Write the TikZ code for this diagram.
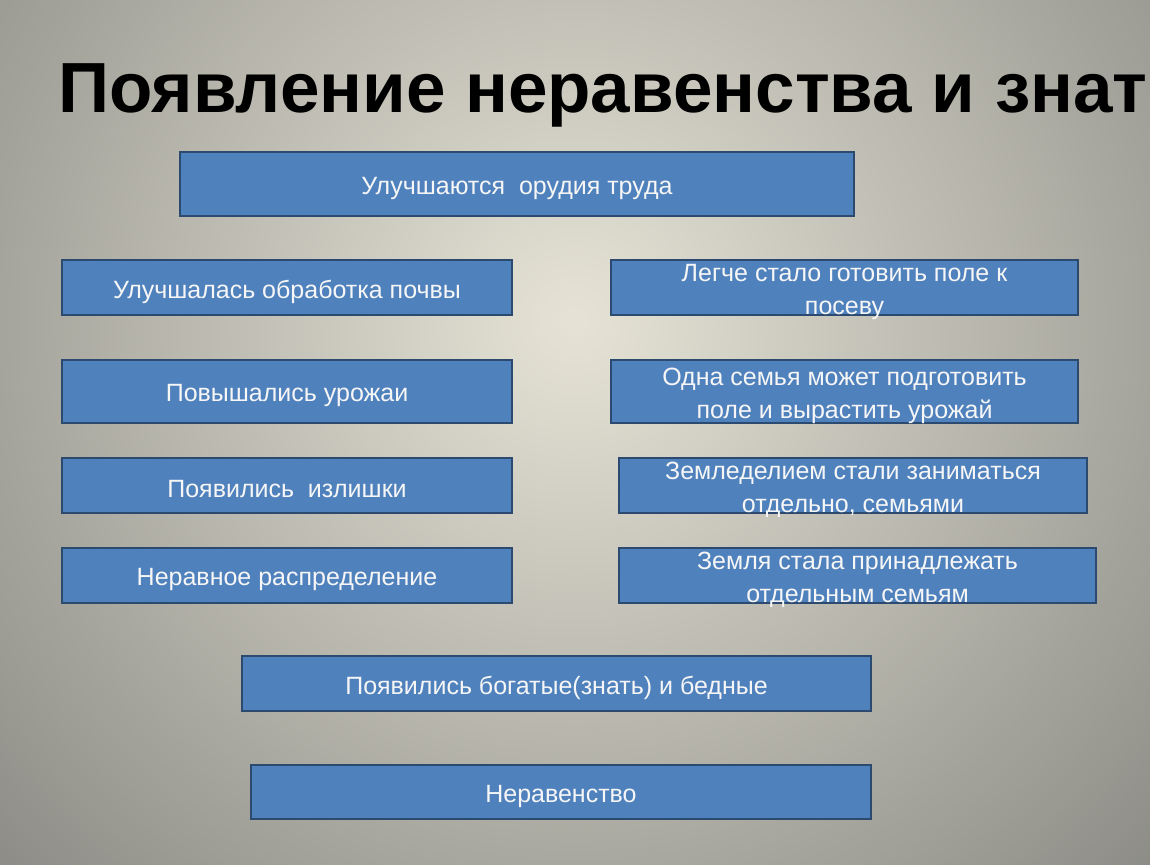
\documentclass[tikz,border=0pt]{standalone}
\usepackage{fontspec}
\setmainfont{Liberation Sans}
\definecolor{boxfill}{HTML}{4F81BD}
\definecolor{boxline}{HTML}{2C4A70}
\definecolor{bgin}{HTML}{E6E3D6}
\definecolor{bgout}{HTML}{8A8A84}
\begin{document}
\begin{tikzpicture}[x=1pt,y=-1pt,
  bx/.style={draw=boxline,line width=2pt,fill=boxfill,text=white!93!gray,
    font=\fontsize{25}{33}\selectfont,align=center,inner sep=0pt}]
\useasboundingbox (0,0) rectangle (1150,864);
\begin{scope}
\clip (0,0) rectangle (1150,864);
\shade[inner color=bgin, outer color=bgout] (575,320) circle (820);
\node[anchor=base west,font=\bfseries\fontsize{71}{75}\selectfont,inner sep=0pt] (title) at (58,113) {Появление неравенства и знать};
\end{scope}
\newcommand\bxnode[6]{\node[bx,minimum width=#4-#2,minimum height=#5-#3] (#1) at ({(#2+#4)/2},{(#3+#5)/2}) {};
\node[text=white!93!gray,font=\fontsize{25}{33}\selectfont,align=center,inner sep=0pt] (#1t) at ([yshift=-4pt]#1.center) {#6};}
\bxnode{b1}{180}{152}{854}{216}{Улучшаются\ \ орудия труда}
\bxnode{b2}{62}{260}{512}{315}{Улучшалась обработка почвы}
\bxnode{b3}{611}{260}{1078}{315}{Легче стало готовить поле к\\посеву}
\bxnode{b4}{62}{360}{512}{423}{Повышались урожаи}
\bxnode{b5}{611}{360}{1078}{423}{Одна семья может подготовить\\поле и вырастить урожай}
\bxnode{b6}{62}{458}{512}{513}{Появились\ \ излишки}
\bxnode{b7}{619}{458}{1087}{513}{Земледелием стали заниматься\\отдельно, семьями}
\bxnode{b8}{62}{548}{512}{603}{Неравное распределение}
\bxnode{b9}{619}{548}{1096}{603}{Земля стала принадлежать\\отдельным семьям}
\bxnode{b10}{242}{656}{871}{711}{Появились богатые(знать) и бедные}
\bxnode{b11}{251}{765}{871}{819}{Неравенство}
\end{tikzpicture}
\end{document}
